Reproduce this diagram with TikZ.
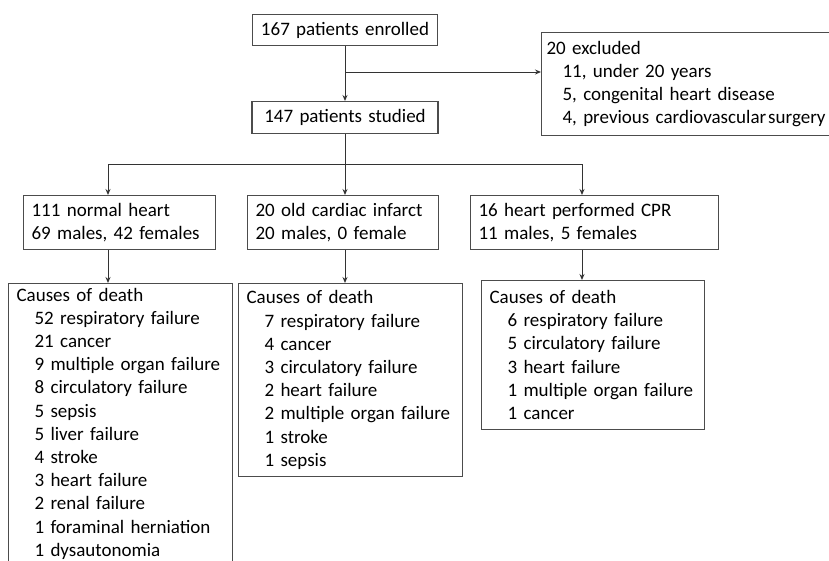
\documentclass[tikz,border=0pt]{standalone}
\usepackage{fontspec}
\setmainfont{Carlito}
\usepackage{tikz}
\usetikzlibrary{positioning,arrows.meta}
\newcommand{\ind}{\hspace*{18pt}}

\begin{document}
\begin{tikzpicture}[>={Stealth[length=6pt,width=5pt]}, x=1pt, y=-1pt,
    box/.style={draw=black!70, line width=1.1pt, inner xsep=8pt, inner ysep=0pt,
        font=\fontsize{19}{23.2}\selectfont, anchor=north west},
    flow/.style={black!80, line width=1pt}]
    \useasboundingbox (0,0) rectangle (829,560);

    % Top of the flow
    \node[box, anchor=north, text width=169pt, align=center, minimum height=31pt] (enrol) at (345,14) {167 patients enrolled};
    \node[box, anchor=north, text width=170pt, align=center, minimum height=32pt] (study) at (345,101) {147 patients studied};
    \node[box, inner xsep=5pt, text width=300pt, align=left, minimum height=103pt] (excl) at (541,32)
        {20 excluded\\ \hspace*{16pt}11, under 20 years\\ \hspace*{16pt}5, congenital heart disease\\
         \hspace*{16pt}4, previous cardiovascular\kern2pt surgery};

    % Groups
    \node[box, text width=176pt, align=left, minimum height=54pt] (normal) at (23,195) {111 normal heart\\ 69 males, 42 females};
    \node[box, text width=175pt, align=left, minimum height=54pt] (infarct) at (247,195) {20 old cardiac infarct\\ 20 males, 0 female};
    \node[box, text width=232pt, align=left, minimum height=54pt] (cpr) at (470,195) {16 heart performed CPR\\ 11 males, 5 females};

    % Causes of death
    \node[box, text width=208pt, align=left, minimum height=280pt] (causesA) at (8,283)
        {Causes of death\\ \ind 52 respiratory failure\\ \ind 21 cancer\\ \ind 9 multiple organ failure\\
         \ind 8 circulatory failure\\ \ind 5 sepsis\\ \ind 5 liver failure\\ \ind 4 stroke\\
         \ind 3 heart failure\\ \ind 2 renal failure\\ \ind 1 foraminal herniation\\ \ind 1 dysautonomia};
    \node[box, text width=208pt, align=left, minimum height=193pt] (causesB) at (238,283)
        {Causes of death\\ \ind 7 respiratory failure\\ \ind 4 cancer\\ \ind 3 circulatory failure\\
         \ind 2 heart failure\\ \ind 2 multiple organ failure\\ \ind 1 stroke\\ \ind 1 sepsis};
    \node[box, text width=207pt, align=left, minimum height=149pt] (causesC) at (481,280)
        {Causes of death\\ \ind 6 respiratory failure\\ \ind 5 circulatory failure\\ \ind 3 heart failure\\
         \ind 1 multiple organ failure\\ \ind 1 cancer};

    % Connectors
    \coordinate (split) at (345,72);
    \coordinate (fork) at (345,164);
    \coordinate (forkL) at (108,164);
    \coordinate (forkR) at (582,164);
    \draw[flow, ->] (enrol) -- (study);
    \draw[flow, ->] (split) -- (split -| excl.west);
    \draw[flow] (study.south) -- (fork);
    \draw[flow] (forkL) -- (forkR);
    \draw[flow, ->] (forkL) -- (forkL |- normal.north);
    \draw[flow, ->] (fork) -- (fork |- infarct.north);
    \draw[flow, ->] (forkR) -- (forkR |- cpr.north);
    \draw[flow, ->] (normal.south -| forkL) -- (causesA.north -| forkL);
    \draw[flow, ->] (infarct.south -| fork) -- (causesB.north -| fork);
    \draw[flow, ->] (cpr.south -| forkR) -- (causesC.north -| forkR);
\end{tikzpicture}
\end{document}
